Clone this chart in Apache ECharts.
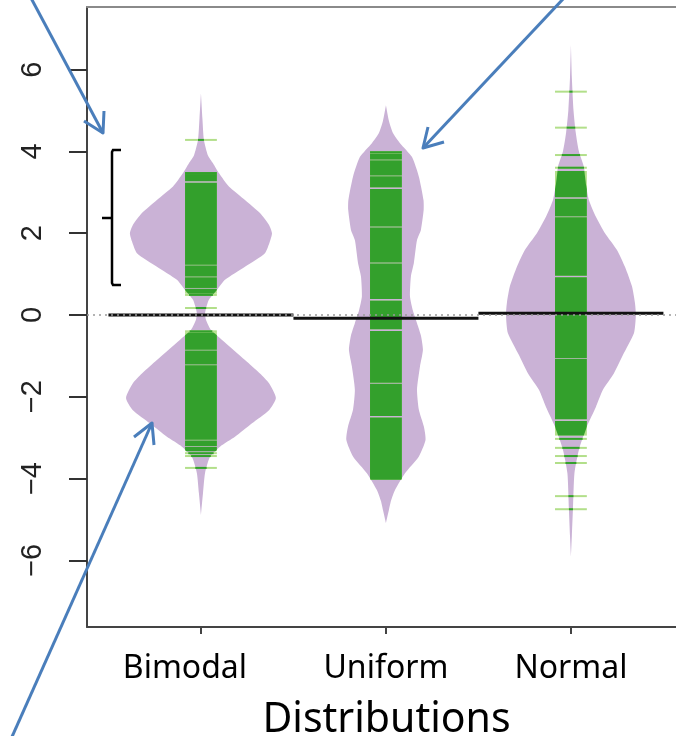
<!DOCTYPE html>
<html><head><meta charset="utf-8">
<script src="https://cdn.jsdelivr.net/npm/echarts@6/dist/echarts.min.js"></script>
<style>html,body{margin:0;padding:0;background:#fff}#c{width:676px;height:736px}</style>
</head><body><div id="c"></div>
<script>
// ---- data ----
const categories = ['Bimodal', 'Uniform', 'Normal'];
const categoryPos = [1, 2, 3];
const yTicks = [-6, -4, -2, 0, 2, 4, 6];
const groupMeans = [0.0, -0.08, 0.04];
const overallMean = 0;

// bean outlines: heights (descending) and half widths (x-axis units)
const bimodalDensY = [5.42, 4.80, 4.28, 3.90, 3.71, 3.47, 3.14, 2.81, 2.49, 2.20, 2.00, 1.80, 1.51, 1.18, 0.86, 0.61, 0.37, 0.15, 0.03, -0.12, -0.37, -0.61, -1.10, -1.43, -1.67, -2.03, -2.33, -2.65, -2.98, -3.22, -3.47, -3.87, -4.36, -4.89];
const bimodalDensW = [0, 0.008, 0.016, 0.038, 0.065, 0.097, 0.151, 0.238, 0.319, 0.368, 0.384, 0.373, 0.346, 0.238, 0.130, 0.086, 0.043, 0.027, 0.022, 0.027, 0.054, 0.114, 0.238, 0.319, 0.368, 0.405, 0.368, 0.276, 0.184, 0.103, 0.049, 0.022, 0.011, 0];
const uniformDensY = [5.13, 4.75, 4.45, 4.20, 3.86, 3.38, 2.81, 2.57, 2.08, 1.83, 1.27, 0.94, 0.45, 0.10, -0.20, -0.50, -0.85, -1.26, -1.83, -2.32, -2.73, -3.06, -3.46, -3.87, -4.28, -4.55, -4.77, -5.09];
const uniformDensW = [0, 0.016, 0.038, 0.076, 0.141, 0.178, 0.203, 0.204, 0.189, 0.168, 0.151, 0.135, 0.130, 0.146, 0.168, 0.189, 0.200, 0.184, 0.168, 0.178, 0.205, 0.214, 0.178, 0.103, 0.049, 0.027, 0.016, 0];
const normalDensY = [6.60, 5.80, 5.00, 4.46, 4.00, 3.62, 3.20, 2.81, 2.40, 2.00, 1.59, 1.18, 0.70, 0.30, 0.00, -0.44, -0.98, -1.43, -1.83, -2.25, -2.73, -3.30, -3.87, -4.74, -5.40, -5.92];
const normalDensW = [0, 0.005, 0.014, 0.026, 0.043, 0.070, 0.081, 0.097, 0.135, 0.184, 0.249, 0.292, 0.330, 0.346, 0.351, 0.341, 0.281, 0.232, 0.173, 0.135, 0.086, 0.043, 0.019, 0.011, 0.005, 0];

// bean lines: dense stretches of observations [top, bottom] and single observations
const bimodalRuns = [[3.45, 3.27], [3.23, 1.23], [1.21, 0.94], [0.92, 0.66], [0.64, 0.52], [-0.42, -0.85], [-0.87, -1.21], [-1.23, -3.05], [-3.07, -3.21], [-3.23, -3.33]];
const bimodalLines = [4.28, 3.47, 0.49, 0.17, -0.40, -3.38, -3.45, -3.74];
const uniformRuns = [[3.95, 3.80], [3.78, 3.41], [3.39, 3.12], [3.08, 2.16], [2.14, 1.28], [1.26, 0.39], [0.35, -0.35], [-0.39, -1.66], [-1.68, -2.47], [-2.51, -4.03]];
const uniformLines = [3.98];
const normalRuns = [[3.52, 2.88], [2.84, 2.41], [2.39, 0.96], [0.92, -1.06], [-1.08, -2.55], [-2.59, -2.95]];
const normalLines = [5.46, 4.58, 3.91, 3.60, -3.03, -3.25, -3.45, -3.62, -4.43, -4.75];

const densY = [bimodalDensY, uniformDensY, normalDensY];
const densW = [bimodalDensW, uniformDensW, normalDensW];
const runs = [bimodalRuns, uniformRuns, normalRuns];
const lines = [bimodalLines, uniformLines, normalLines];

// ---- style ----
const PURPLE = '#CAB2D6', DARK = '#33A02C', LIGHT = '#B2DF8A', BLUE = '#4A7EBB';
const HW = 0.086;   // half width of bean lines
const X_MIN = 0.384, X_MAX = 3.568, Y_MIN = -7.63, Y_MAX = 7.53;

function widthAt(g, v) {
  const ys = densY[g], ws = densW[g];
  if (v >= ys[0] || v <= ys[ys.length - 1]) return 0;
  for (let i = 0; i < ys.length - 1; i++) {
    if (v <= ys[i] && v >= ys[i + 1]) {
      const t = (ys[i] - v) / (ys[i] - ys[i + 1]);
      return ws[i] + (ws[i + 1] - ws[i]) * t;
    }
  }
  return 0;
}

const groupData = categoryPos.map((p, i) => [p, groupMeans[i]]);

const chart = echarts.init(document.getElementById('c'), null, {renderer: 'canvas'});
chart.setOption({
  animation: false,
  backgroundColor: '#fff',
  grid: {left: 87, right: 0, top: 7, bottom: 109, containLabel: false, outerBoundsMode: 'none'},
  xAxis: [{
    type: 'value', min: X_MIN, max: X_MAX, position: 'bottom',
    splitLine: {show: false},
    axisLine: {show: true, onZero: false, lineStyle: {color: '#444', width: 2}},
    axisTick: {show: true, length: 7, customValues: categoryPos, lineStyle: {color: '#444', width: 2}},
    axisLabel: {
      customValues: categoryPos, margin: 26,
      formatter: v => {
        const i = Math.round(v) - 1;
        return i === 0 ? '{shift|' + categories[i] + '}' : (categories[i] || '');
      },
      fontFamily: 'Noto Sans', fontSize: 32, color: '#000',
      rich: {shift: {fontFamily: 'Noto Sans', fontSize: 32, color: '#000', padding: [0, 32, 0, 0]}}
    },
    name: 'Distributions', nameLocation: 'middle', nameGap: 73,
    nameTextStyle: {fontFamily: 'Noto Sans', fontSize: 41, color: '#000', padding: [0, 0, 0, 10]}
  }, {
    type: 'value', min: X_MIN, max: X_MAX, position: 'top',
    splitLine: {show: false},
    axisLine: {show: true, onZero: false, lineStyle: {color: '#8a8a8a', width: 2}},
    axisTick: {show: false}, axisLabel: {show: false}
  }],
  yAxis: {
    type: 'value', min: Y_MIN, max: Y_MAX,
    splitLine: {show: false},
    axisLine: {show: true, onZero: false, lineStyle: {color: '#444', width: 2}},
    axisTick: {show: true, length: 18, customValues: yTicks, lineStyle: {color: '#333', width: 2}},
    axisLabel: {
      customValues: yTicks, rotate: 90, margin: 40,
      formatter: v => String(v).replace('-', '\u2212'),
      fontFamily: 'Liberation Sans', fontSize: 29, color: '#222'
    }
  },
  series: [
    {
      type: 'line', name: 'overall mean', data: [[X_MIN, overallMean], [X_MAX, overallMean]],
      symbol: 'none', lineStyle: {color: '#9a9a9a', width: 1.5, type: [2, 4]}, silent: true
    },
    {
      type: 'custom', name: 'beans', data: groupData,
      renderItem: (params, api) => {
        const g = params.dataIndex, cx = categoryPos[g];
        const ys = densY[g], ws = densW[g];
        const pts = [];
        for (let i = 0; i < ys.length; i++) pts.push(api.coord([cx + ws[i], ys[i]]));
        for (let i = ys.length - 1; i >= 0; i--) pts.push(api.coord([cx - ws[i], ys[i]]));
        return {type: 'polygon', shape: {points: pts, smooth: 0.2}, style: {fill: PURPLE}};
      }
    },
    {
      type: 'custom', name: 'beanlines', data: groupData,
      renderItem: (params, api) => {
        const g = params.dataIndex, cx = categoryPos[g];
        const children = [];
        runs[g].forEach(([top, bot]) => {
          const a = api.coord([cx - HW, top]), b = api.coord([cx + HW, bot]);
          children.push({type: 'rect', shape: {x: a[0], y: a[1], width: b[0] - a[0], height: b[1] - a[1]}, style: {fill: LIGHT}});
          const right = [], left = [];
          const n = Math.max(2, Math.ceil((top - bot) / 0.02));
          for (let k = 0; k <= n; k++) {
            const v = top - (top - bot) * k / n;
            const w = Math.min(widthAt(g, v), HW);
            right.push(api.coord([cx + w, v]));
            left.unshift(api.coord([cx - w, v]));
          }
          children.push({type: 'polygon', shape: {points: right.concat(left)}, style: {fill: DARK}});
        });
        lines[g].forEach(v => {
          const a = api.coord([cx - HW, v]), b = api.coord([cx + HW, v]);
          children.push({type: 'line', shape: {x1: a[0], y1: a[1], x2: b[0], y2: b[1]}, style: {stroke: LIGHT, lineWidth: 2}});
          const w = Math.min(widthAt(g, v), HW);
          if (w > 0) {
            const c = api.coord([cx - w, v]), d = api.coord([cx + w, v]);
            children.push({type: 'line', shape: {x1: c[0], y1: c[1], x2: d[0], y2: d[1]}, style: {stroke: DARK, lineWidth: 2}});
          }
        });
        return {type: 'group', children};
      }
    },
    {
      type: 'custom', name: 'means', data: groupData,
      renderItem: (params, api) => {
        const x = api.value(0), m = api.value(1);
        const a = api.coord([x - 0.5, m]), b = api.coord([x + 0.5, m]);
        return {type: 'line', shape: {x1: a[0], y1: a[1], x2: b[0], y2: b[1]}, style: {stroke: '#111', lineWidth: 3}};
      }
    }
  ],
  graphic: [
    {type: 'polyline', z: 100, shape: {points: [[31, -2], [103, 133]]}, style: {stroke: BLUE, lineWidth: 3, fill: null}},
    {type: 'polyline', z: 100, shape: {points: [[84, 121], [103, 133], [104, 111]]}, style: {stroke: BLUE, lineWidth: 3, fill: null, lineJoin: 'round'}},
    {type: 'polyline', z: 100, shape: {points: [[564, -2], [423, 148]]}, style: {stroke: BLUE, lineWidth: 3, fill: null}},
    {type: 'polyline', z: 100, shape: {points: [[428, 127], [423, 148], [444, 142]]}, style: {stroke: BLUE, lineWidth: 3, fill: null, lineJoin: 'round'}},
    {type: 'polyline', z: 100, shape: {points: [[11, 739], [152, 423]]}, style: {stroke: BLUE, lineWidth: 3, fill: null}},
    {type: 'polyline', z: 100, shape: {points: [[134, 437], [152, 423], [154, 445]]}, style: {stroke: BLUE, lineWidth: 3, fill: null, lineJoin: 'round'}},
    {type: 'polyline', z: 100, shape: {points: [[121, 150], [113, 150], [112, 152], [112, 283], [113, 285], [121, 285]]}, style: {stroke: '#000', lineWidth: 2.5, fill: null}},
    {type: 'line', z: 100, shape: {x1: 102, y1: 218, x2: 112, y2: 218}, style: {stroke: '#000', lineWidth: 2.5}}
  ]
});
</script>
</body></html>
